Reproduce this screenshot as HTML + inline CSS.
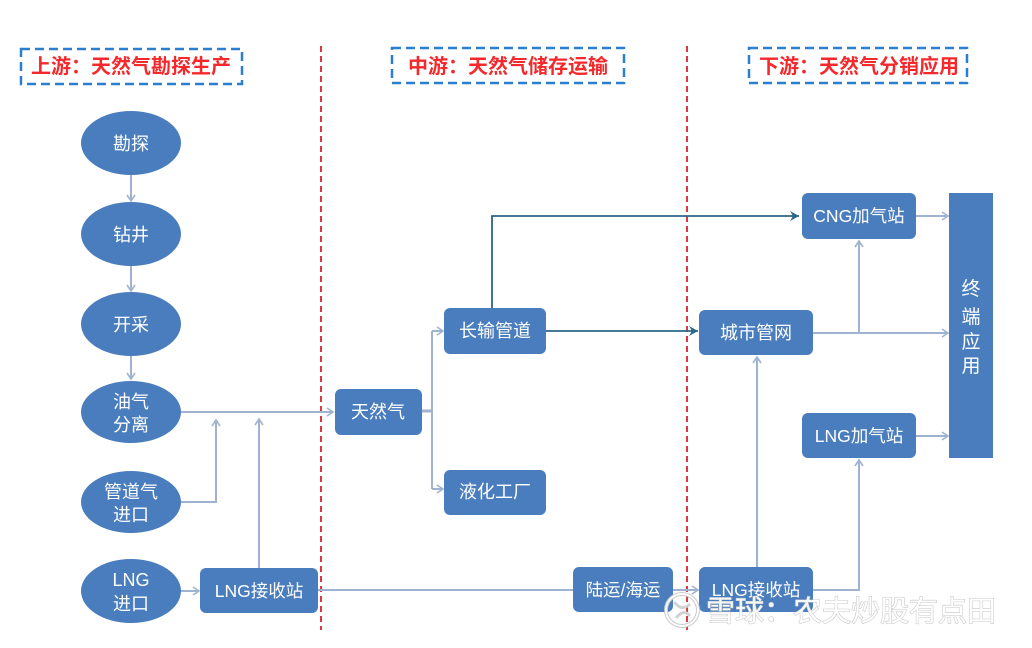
<!DOCTYPE html>
<html><head><meta charset="utf-8"><style>
html,body{margin:0;padding:0;background:#fff;}
svg{display:block;}
text{font-family:"Liberation Sans","Noto Sans CJK SC",sans-serif;}
</style></head><body>
<svg width="1032" height="648" viewBox="0 0 1032 648" xmlns="http://www.w3.org/2000/svg">
<defs>
<marker id="la" markerWidth="10" markerHeight="10" refX="8" refY="5" orient="auto" markerUnits="userSpaceOnUse">
<path d="M2,1 L8,5 L2,9" fill="none" stroke="#9fb3d1" stroke-width="1.6"/>
</marker>
<marker id="da" markerWidth="12" markerHeight="12" refX="10" refY="6" orient="auto" markerUnits="userSpaceOnUse">
<path d="M1,1 L10,6 L1,11 L4,6 Z" fill="#2c6688"/>
</marker>
</defs>
<rect width="1032" height="648" fill="#fff"/>

<!-- red dashed separators -->
<line x1="321" y1="46" x2="321" y2="630" stroke="#d83a44" stroke-width="2" stroke-dasharray="6,4"/>
<line x1="687" y1="46" x2="687" y2="630" stroke="#d83a44" stroke-width="2" stroke-dasharray="6,4"/>

<!-- title boxes -->
<rect x="21" y="49" width="221" height="35" fill="none" stroke="#2a80cf" stroke-width="2.5" stroke-dasharray="9,5"/>
<text x="131" y="73" font-size="20" fill="#f5282c" text-anchor="middle" font-weight="bold">上游：天然气勘探生产</text>
<rect x="392" y="48" width="232" height="35" fill="none" stroke="#2a80cf" stroke-width="2.5" stroke-dasharray="9,5"/>
<text x="508" y="73" font-size="20" fill="#f5282c" text-anchor="middle" font-weight="bold">中游：天然气储存运输</text>
<rect x="749" y="48" width="218" height="35" fill="none" stroke="#2a80cf" stroke-width="2.5" stroke-dasharray="9,5"/>
<text x="859" y="73" font-size="20" fill="#f5282c" text-anchor="middle" font-weight="bold">下游：天然气分销应用</text>

<!-- light connectors -->
<g stroke="#9fb3d1" stroke-width="2" fill="none">
<line x1="131" y1="175" x2="131" y2="201" marker-end="url(#la)"/>
<line x1="131" y1="266" x2="131" y2="291" marker-end="url(#la)"/>
<line x1="131" y1="356" x2="131" y2="379" marker-end="url(#la)"/>
<line x1="181" y1="412" x2="333" y2="412" marker-end="url(#la)"/>
<polyline points="181,502 216,502 216,420" marker-end="url(#la)"/>
<line x1="259" y1="568" x2="259" y2="419" marker-end="url(#la)"/>
<line x1="181" y1="591" x2="199" y2="591" marker-end="url(#la)"/>
<line x1="318" y1="590" x2="573" y2="590"/>
<line x1="673" y1="590" x2="698" y2="590" marker-end="url(#la)"/>
<line x1="422" y1="411" x2="432" y2="411" stroke-width="3"/>
<line x1="432" y1="331" x2="432" y2="489"/>
<line x1="432" y1="331" x2="443" y2="331" marker-end="url(#la)"/>
<line x1="432" y1="489" x2="443" y2="489" marker-end="url(#la)"/>
<line x1="916" y1="216" x2="948" y2="216" marker-end="url(#la)"/>
<line x1="813" y1="333" x2="948" y2="333" marker-end="url(#la)"/>
<line x1="859" y1="333" x2="859" y2="241" marker-end="url(#la)"/>
<line x1="916" y1="436" x2="948" y2="436" marker-end="url(#la)"/>
<line x1="757" y1="567" x2="757" y2="357" marker-end="url(#la)"/>
<polyline points="813,590 859,590 859,460" marker-end="url(#la)"/>
</g>

<!-- dark connectors -->
<g stroke="#2c6688" stroke-width="1.8" fill="none">
<polyline points="492,308 492,216 799,216" marker-end="url(#da)"/>
<line x1="546" y1="331" x2="698" y2="331" marker-end="url(#da)"/>
</g>

<!-- ellipses -->
<g fill="#4a7dbd">
<ellipse cx="131" cy="143" rx="50" ry="32"/>
<ellipse cx="131" cy="234" rx="50" ry="32"/>
<ellipse cx="131" cy="324" rx="50" ry="32"/>
<ellipse cx="131" cy="412" rx="50" ry="31"/>
<ellipse cx="131" cy="502" rx="50" ry="31"/>
<ellipse cx="131" cy="591" rx="50" ry="32"/>
</g>
<g fill="#fff" font-size="18" text-anchor="middle">
<text x="131" y="150">勘探</text>
<text x="131" y="241">钻井</text>
<text x="131" y="331">开采</text>
<text x="131" y="408">油气</text>
<text x="131" y="431">分离</text>
<text x="131" y="498">管道气</text>
<text x="131" y="521">进口</text>
<text x="131" y="586">LNG</text>
<text x="131" y="610">进口</text>
</g>

<!-- boxes -->
<g fill="#4a7dbd">
<rect x="200" y="568" width="118" height="45" rx="6"/>
<rect x="335" y="389" width="87" height="46" rx="6"/>
<rect x="444" y="308" width="102" height="46" rx="6"/>
<rect x="444" y="470" width="102" height="45" rx="6"/>
<rect x="573" y="567" width="100" height="45" rx="6"/>
<rect x="699" y="567" width="114" height="45" rx="6"/>
<rect x="699" y="310" width="114" height="45" rx="6"/>
<rect x="802" y="193" width="114" height="46" rx="6"/>
<rect x="802" y="413" width="114" height="45" rx="6"/>
<rect x="949" y="193" width="44" height="265"/>
</g>
<g fill="#fff" font-size="17.5" text-anchor="middle">
<text x="259" y="597">LNG接收站</text>
<text x="378" y="418" font-size="18">天然气</text>
<text x="495" y="337" font-size="18">长输管道</text>
<text x="495" y="498" font-size="18">液化工厂</text>
<text x="623" y="596">陆运/海运</text>
<text x="756" y="596">LNG接收站</text>
<text x="756" y="339" font-size="18">城市管网</text>
<text x="859" y="222">CNG加气站</text>
<text x="859" y="442">LNG加气站</text>
</g>
<g fill="#fff" font-size="19" text-anchor="middle">
<text x="971" y="295">终</text>
<text x="971" y="323">端</text>
<text x="971" y="348">应</text>
<text x="971" y="372">用</text>
</g>

<!-- watermark -->
<g opacity="0.95">
<circle cx="682" cy="610" r="16" fill="none" stroke="#c8c8c8" stroke-width="4"/>
<circle cx="682" cy="610" r="16" fill="none" stroke="#ffffff" stroke-width="2"/>
<path d="M674,602 Q682,612 690,604 M676,618 Q684,608 690,616" fill="none" stroke="#d0d0d0" stroke-width="3"/>
<text x="706" y="621" font-size="29" fill="#ffffff" stroke="#c4c4c4" stroke-width="1.1" paint-order="stroke">雪球：农夫炒股有点田</text>
</g>
</svg>
</body></html>
